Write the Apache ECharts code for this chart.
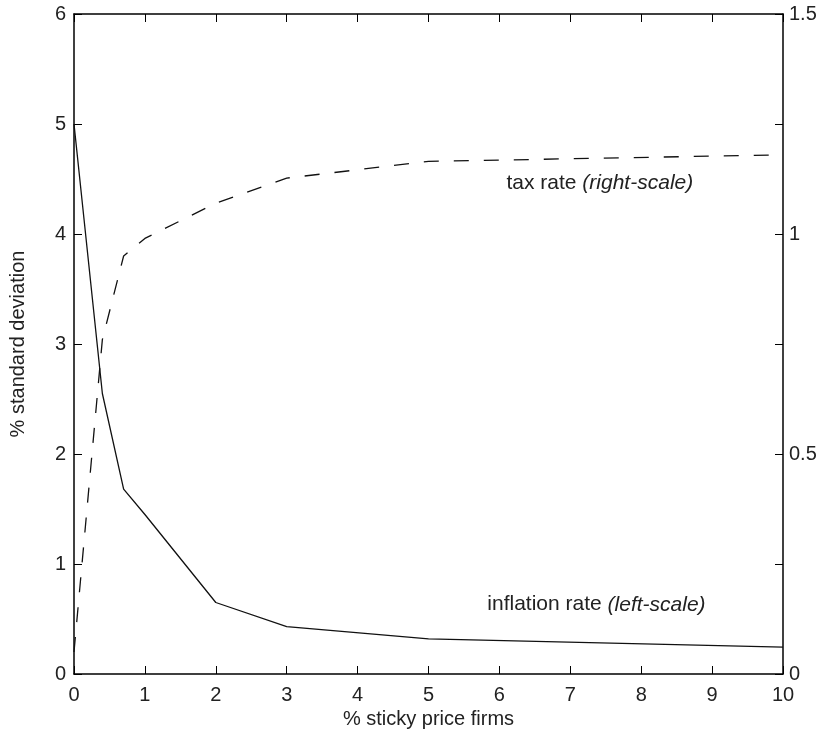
<!DOCTYPE html>
<html>
<head>
<meta charset="utf-8">
<script src="https://cdn.jsdelivr.net/npm/echarts@6/dist/echarts.min.js"></script>
<style>
html,body{margin:0;padding:0;background:#fff;}
#chart{width:828px;height:739px;}
</style>
</head>
<body>
<div id="chart"></div>
<script>
// Data
var stickyShare = [0, 0.4, 0.7, 1, 2, 3, 5, 10];           // % sticky price firms
var inflationSD = [5.0, 2.55, 1.68, 1.45, 0.65, 0.43, 0.32, 0.245]; // left scale
var taxSD       = [0.05, 0.76, 0.95, 0.99, 1.07, 1.127, 1.165, 1.18]; // right scale
var xTicks = [0,1,2,3,4,5,6,7,8,9,10];
var leftTicks = [0,1,2,3,4,5,6];
var rightTickLabels = [0, 0.5, 1, 1.5];

var FONT = 'Liberation Sans, Arial, Helvetica, sans-serif';
var FS = 20;
var FS_NOTE = 21;

function pairs(xs, ys){ return xs.map(function(x,i){ return [x, ys[i]]; }); }

var chart = echarts.init(document.getElementById('chart'), null, {renderer:'canvas'});
var axisLine = {show:true, onZero:false, lineStyle:{color:'#000', width:1.5}};
var tick = {show:true, inside:true, length:8, lineStyle:{color:'#000', width:1}};

var option = {
  animation:false,
  backgroundColor:'#fff',
  grid:{left:73, right:45, top:14, bottom:65, containLabel:false},
  xAxis:[{
    type:'value', min:0, max:10, interval:1, position:'bottom',
    name:'% sticky price firms', nameLocation:'middle', nameGap:33,
    nameTextStyle:{fontFamily:FONT, fontSize:FS, color:'#222'},
    axisLine:axisLine, axisTick:tick, splitLine:{show:false},
    axisLabel:{fontFamily:FONT, fontSize:FS, color:'#222', margin:11}
  },{
    type:'value', min:0, max:10, interval:1, position:'top',
    axisLine:axisLine, axisTick:tick, splitLine:{show:false},
    axisLabel:{show:false}
  }],
  yAxis:[{
    type:'value', min:0, max:6, interval:1, position:'left',
    name:'% standard deviation', nameLocation:'middle', nameGap:46,
    nameTextStyle:{fontFamily:FONT, fontSize:FS, color:'#222'},
    axisLine:axisLine, axisTick:tick, splitLine:{show:false},
    axisLabel:{fontFamily:FONT, fontSize:FS, color:'#222', margin:8}
  },{
    type:'value', min:0, max:1.5, interval:0.25, position:'right',
    axisLine:axisLine, axisTick:tick, splitLine:{show:false},
    axisLabel:{fontFamily:FONT, fontSize:FS, color:'#222', margin:6,
      formatter:function(v){
        for (var i=0;i<rightTickLabels.length;i++){ if (Math.abs(rightTickLabels[i]-v)<1e-9) return String(v); }
        return '';
      }}
  }],
  series:[{
    name:'inflation rate', type:'line', xAxisIndex:0, yAxisIndex:0,
    data:pairs(stickyShare, inflationSD), showSymbol:false, symbol:'none',
    lineStyle:{color:'#111', width:1.3, type:'solid'},
    markPoint:{
      symbol:'circle', symbolSize:0, silent:true,
      data:[{coord:[5.83, 0.63], value:''}],
      label:{show:true, position:'inside', align:'left', verticalAlign:'middle',
        formatter:'{n|inflation rate }{i|(left-scale)}',
        rich:{n:{fontFamily:FONT, fontSize:FS_NOTE, color:'#222'},
              i:{fontFamily:FONT, fontSize:FS_NOTE, fontStyle:'italic', color:'#222'}}}
    }
  },{
    name:'tax rate', type:'line', xAxisIndex:0, yAxisIndex:1,
    data:pairs(stickyShare, taxSD), showSymbol:false, symbol:'none',
    lineStyle:{color:'#111', width:1.3, type:[15,15]},
    markPoint:{
      symbol:'circle', symbolSize:0, silent:true,
      data:[{coord:[6.1, 1.116], value:''}],
      label:{show:true, position:'inside', align:'left', verticalAlign:'middle',
        formatter:'{n|tax rate }{i|(right-scale)}',
        rich:{n:{fontFamily:FONT, fontSize:FS_NOTE, color:'#222'},
              i:{fontFamily:FONT, fontSize:FS_NOTE, fontStyle:'italic', color:'#222'}}}
    }
  }]
};
chart.setOption(option);
</script>
</body>
</html>
